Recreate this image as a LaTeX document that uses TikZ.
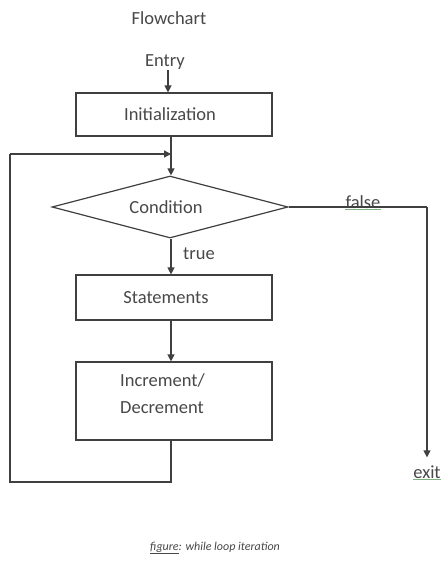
\documentclass[tikz,border=0pt]{standalone}
\usepackage{fontspec}
\setmainfont{Carlito}
\usetikzlibrary{shapes.geometric,arrows.meta}
\definecolor{ink}{HTML}{404040}
\definecolor{txt}{HTML}{484848}
\definecolor{squig}{HTML}{7FB07F}
\begin{document}
\begin{tikzpicture}[x=1pt,y=-1pt,
  line/.style={draw=ink,line width=1.3pt},
  arr/.style={line,-{Triangle[width=7pt,length=7pt]}},
  stepbox/.style={draw=ink,line width=1.2pt,minimum width=196pt,inner sep=0pt,text=txt,font=\fontsize{18.5}{22}\selectfont},
  lbl/.style={text=txt,font=\fontsize{18.5}{22}\selectfont,inner sep=0pt}]
\useasboundingbox (0,0) rectangle (441,564);
\fill[white] (0,0) rectangle (441,564);

% title and entry label
\node[lbl] (title) at (169,18) {Flowchart};
\node[lbl] (entry) at (165,62) {Entry};

% boxes
\node[stepbox,minimum height=43pt] (init) at (174,114.5) {Initialization\kern8pt};
\node[diamond,draw=ink,line width=1.2pt,minimum width=236pt,minimum height=62pt,
      aspect=3.8,inner sep=0pt,text=txt,font=\fontsize{18.5}{22}\selectfont] (cond) at (170,207) {Condition\kern8pt};
\node[stepbox,minimum height=45pt] (stmt) at (174,297.5) {Statements\kern16pt};
\node[stepbox,minimum height=78pt] (inc) at (174,401) {};
\node[lbl,align=left,anchor=west] (incText) at (120,394) {Increment/\\[5pt]Decrement};

% edge labels
\node[lbl] (true) at (199,254) {true};
\node[lbl] (false) at (363,202) {false};
\node[lbl] (exit) at (427,472) {exit};
\draw[squig,line width=0.8pt] ([yshift=-1pt]false.south west) -- ([yshift=-1pt]false.south east);
\draw[squig,line width=0.8pt] ([yshift=-1pt]exit.south west) -- ([yshift=-1pt]exit.south east);

% helper points of the loop and the exit path
\coordinate (join) at (171,154);
\coordinate (loopB) at (171,482);
\coordinate (loopL) at (10,482);
\coordinate (loopT) at (10,154);
\coordinate (fc) at (427,207);
\coordinate (entryEnd) at (168,70);

% connectors
\draw[arr] (entryEnd) -- (init.north -| entryEnd);
\draw[line] (init.south -| join) -- (join);
\draw[arr] (join) -- (cond.north -| join);
\draw[arr] (cond.south -| join) -- (stmt.north -| join);
\draw[arr] (stmt.south -| join) -- (inc.north -| join);
\draw[line] (inc.south -| loopB) -- (loopB) -- (loopL) -- (loopT);
\draw[arr] (loopT) -- (join);
\draw[line] (cond.east) -- (fc);
\draw[arr] (fc) -- ([yshift=8pt]exit.north);

% caption
\node[text=txt,font=\itshape\fontsize{12}{14}\selectfont,inner sep=0pt] (cap) at (215,548)
  {\underline{figure}: while loop iteration};
\end{tikzpicture}
\end{document}
